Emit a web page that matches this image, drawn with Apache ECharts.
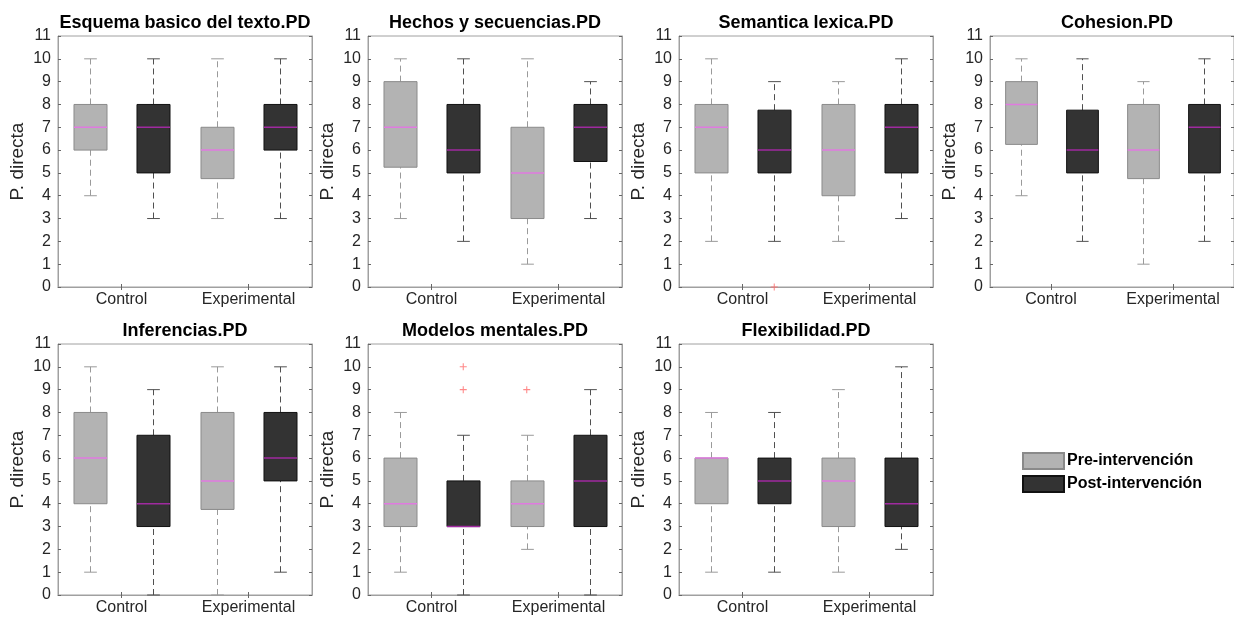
<!DOCTYPE html>
<html><head><meta charset="utf-8">
<script src="https://cdn.jsdelivr.net/npm/echarts@6/dist/echarts.min.js"></script>
<style>html,body{margin:0;padding:0;background:#fff}#c{width:1234px;height:618px}</style>
</head><body><div id="c"></div>
<script>
// ---------------- DATA ----------------
const titles = ['Esquema basico del texto.PD','Hechos y secuencias.PD','Semantica lexica.PD','Cohesion.PD','Inferencias.PD','Modelos mentales.PD','Flexibilidad.PD'];
const groupLabels = ['Control','Experimental'];
const seriesNames = ['Pre-intervención','Post-intervención'];
const yAxisName = 'P. directa';
const yMin = 0, yMax = 11, yStep = 1;
// five-number summaries: [min, q1, median, q3, max], one per panel
const preControl       = [[4,6,7,8,10],[3,5.25,7,9,10],[2,5,7,8,10],[4,6.25,8,9,10],[1,4,6,8,10],[1,3,4,6,8],[1,4,6,6,8]];
const postControl      = [[3,5,7,8,10],[2,5,6,8,10],[2,5,6,7.75,9],[2,5,6,7.75,10],[0,3,4,7,9],[0,3,3,5,7],[1,4,5,6,8]];
const preExperimental  = [[3,4.75,6,7,10],[1,3,5,7,10],[2,4,6,8,9],[1,4.75,6,8,9],[0,3.75,5,8,10],[2,3,4,5,7],[1,3,5,6,9]];
const postExperimental = [[3,6,7,8,10],[3,5.5,7,8,9],[3,5,7,8,10],[2,5,7,8,10],[1,5,6,8,10],[0,3,5,7,9],[2,3,4,6,10]];
// outliers: [panel index, box position (1..4), value]
const outliers = [[2,2,0],[5,2,9],[5,2,10],[5,3,9]];

// ---------------- LAYOUT / STYLE ----------------
const gridLefts = [58,368,679,990,58,368,679];
const gridTops  = [36,36,36,36,344,344,344];
const gridW = 254, gridH = 251;
const FONT = '"Liberation Sans", Arial, Helvetica, sans-serif';
const styles = [
  {fill:'#b3b3b3', border:'#8a8a8a', whisker:'#9a9a9a', cap:'#9a9a9a', median:'#e07ae0'},
  {fill:'#333333', border:'#111111', whisker:'#505050', cap:'#505050', median:'#a02aa0'}
];
const axisColor = '#a0a0a0';
const textColor = '#262626';

function makeRender(kind){
  const st = styles[kind];
  return function(params, api){
    const x = api.value(0);
    const ys = [1,2,3,4,5].map(i => api.coord([x, api.value(i)])[1]);
    const cx = Math.round(api.coord([x, 0])[0]) + 0.5;
    const bw = api.size([0.52, 0])[0];
    const cw = api.size([0.2, 0])[0];
    const dash = {stroke: st.whisker, lineWidth: 1, lineDash: [6,4]};
    const ch = [];
    ch.push({type:'line', shape:{x1:cx,y1:ys[3],x2:cx,y2:ys[4]}, style:dash});
    ch.push({type:'line', shape:{x1:cx,y1:ys[0],x2:cx,y2:ys[1]}, style:dash});
    ch.push({type:'line', shape:{x1:cx-cw/2,y1:ys[4],x2:cx+cw/2,y2:ys[4]}, style:{stroke:st.cap,lineWidth:1}});
    ch.push({type:'line', shape:{x1:cx-cw/2,y1:ys[0],x2:cx+cw/2,y2:ys[0]}, style:{stroke:st.cap,lineWidth:1}});
    ch.push({type:'rect', shape:{x:cx-bw/2, y:ys[3], width:bw, height:ys[1]-ys[3]}, style:{fill:st.fill, stroke:st.border, lineWidth:1}});
    ch.push({type:'line', shape:{x1:cx-bw/2,y1:ys[2],x2:cx+bw/2,y2:ys[2]}, style:{stroke:st.median,lineWidth:1.5}});
    return {type:'group', children: ch};
  };
}

const grids=[], xAxes=[], yAxes=[], series=[], titleArr=[];
const plusPath = 'path://M3.4,0h1.2v3.4h3.4v1.2h-3.4v3.4h-1.2v-3.4h-3.4v-1.2h3.4z';
titles.forEach((t, p) => {
  grids.push({left: gridLefts[p], top: gridTops[p], width: gridW, height: gridH, show: true, borderColor: axisColor, borderWidth: 1, backgroundColor: 'transparent'});
  titleArr.push({text: t, left: gridLefts[p] + gridW/2, top: gridTops[p] - 22, textAlign: 'center', padding: 0,
    textStyle: {fontFamily: FONT, fontSize: 18, fontWeight: 'bold', color: '#000'}});
  const xb = {type:'value', gridIndex:p, min:0.5, max:4.5, position:'bottom',
    axisLine:{show:true, lineStyle:{color:axisColor}}, splitLine:{show:false},
    axisTick:{show:true, inside:true, length:3, customValues:[1.5,3.5], lineStyle:{color:'#666'}},
    axisLabel:{show:true, customValues:[1.5,3.5], margin:5, fontFamily:FONT, fontSize:16, color:textColor,
      formatter: v => v < 2.5 ? groupLabels[0] : groupLabels[1]}};
  const xt = {type:'value', gridIndex:p, min:0.5, max:4.5, position:'top',
    axisLine:{show:true, lineStyle:{color:axisColor}}, splitLine:{show:false},
    axisTick:{show:true, inside:true, length:3, customValues:[1.5,3.5], lineStyle:{color:'#666'}},
    axisLabel:{show:false}};
  xAxes.push(xb, xt);
  const yl = {type:'value', gridIndex:p, min:yMin, max:yMax, interval:yStep, position:'left',
    name: yAxisName, nameLocation:'middle', nameGap:31, nameTextStyle:{fontFamily:FONT, fontSize:19, color:textColor},
    axisLine:{show:true, lineStyle:{color:axisColor}}, splitLine:{show:false},
    axisTick:{show:true, inside:true, length:3, lineStyle:{color:'#666'}},
    axisLabel:{margin:7, fontFamily:FONT, fontSize:16, color:textColor}};
  const yr = {type:'value', gridIndex:p, min:yMin, max:yMax, interval:yStep, position:'right',
    axisLine:{show:true, lineStyle:{color:axisColor}}, splitLine:{show:false},
    axisTick:{show:true, inside:true, length:3, lineStyle:{color:'#666'}},
    axisLabel:{show:false}};
  yAxes.push(yl, yr);
  const xi = p*2, yi = p*2;
  series.push({type:'custom', name: seriesNames[0], xAxisIndex:xi, yAxisIndex:yi, clip:false,
    itemStyle:{color:styles[0].fill, borderColor:styles[0].border, borderWidth:1},
    encode:{x:0, y:[1,2,3,4,5]}, renderItem: makeRender(0),
    data:[[1].concat(preControl[p]), [3].concat(preExperimental[p])]});
  series.push({type:'custom', name: seriesNames[1], xAxisIndex:xi, yAxisIndex:yi, clip:false,
    itemStyle:{color:styles[1].fill, borderColor:styles[1].border, borderWidth:1},
    encode:{x:0, y:[1,2,3,4,5]}, renderItem: makeRender(1),
    data:[[2].concat(postControl[p]), [4].concat(postExperimental[p])]});
  const outs = outliers.filter(o => o[0] === p).map(o => [o[1], o[2]]);
  if (outs.length) {
    series.push({type:'scatter', xAxisIndex:xi, yAxisIndex:yi, symbol: plusPath, symbolSize:7,
      itemStyle:{color:'#ff6a6a'}, silent:true, data: outs, z:5});
  }
});

const chart = echarts.init(document.getElementById('c'), null, {renderer:'canvas'});
chart.setOption({
  animation:false,
  backgroundColor:'#fff',
  title: titleArr,
  grid: grids, xAxis: xAxes, yAxis: yAxes,
  legend: {data: seriesNames, left: 1022, top: 452, padding: 0, orient:'vertical', icon:'rect',
    itemWidth:41, itemHeight:16, itemGap:5, selectedMode:false,
    textStyle:{fontFamily:FONT, fontSize:16, fontWeight:'bold', color:'#000', padding:[0,0,0,-2]}},
  series: series
});
</script></body></html>
